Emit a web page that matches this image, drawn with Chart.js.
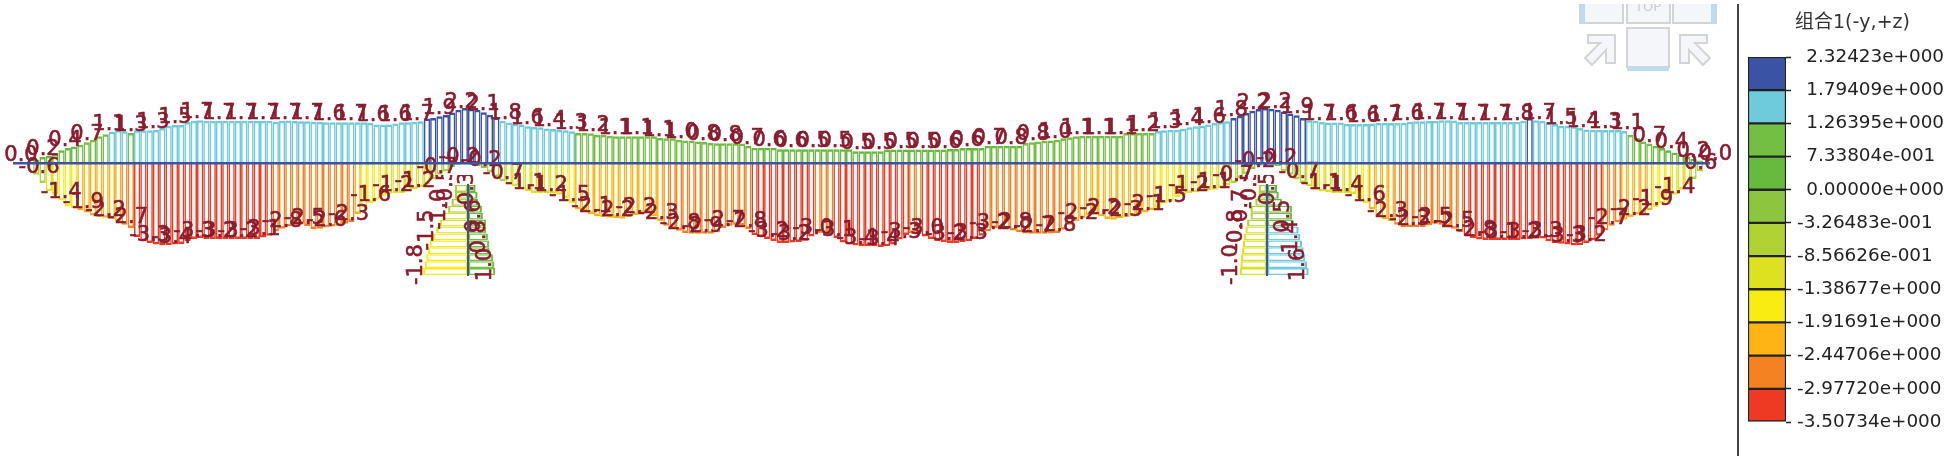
<!DOCTYPE html>
<html>
<head>
<meta charset="utf-8">
<script src="https://cdn.jsdelivr.net/npm/chart.js@4"></script>
<style>
  html, body { margin: 0; padding: 0; background: #fff; width: 1948px; height: 460px; overflow: hidden; }
  canvas { position: absolute; filter: blur(0.45px); }
  #viewCube { position: absolute; left: 1570px; top: 0; filter: blur(0.5px); }
  #divider { position: absolute; left: 1737px; top: 4px; width: 2px; height: 452px; background: #444; }
  #legendTitle { position: absolute; left: 1795px; top: 6px; font: 19px "DejaVu Sans", "Noto Sans CJK SC", sans-serif; color: #333; white-space: nowrap; filter: blur(0.3px); }
</style>
</head>
<body>
<canvas id="beamChart" width="1738" height="460" style="left:0;top:0"></canvas>
<canvas id="pierLeft" width="160" height="130" style="left:388px;top:175px"></canvas>
<canvas id="pierRight" width="160" height="130" style="left:1187px;top:175px"></canvas>
<canvas id="legendChart" width="208" height="460" style="left:1740px;top:0"></canvas>
<div id="divider"></div>
<div id="legendTitle">组合1(-y,+z)</div>
<svg id="viewCube" width="160" height="80" viewBox="1570 0 160 80">
  <g fill="#f4f6f9" stroke="#d2d4d6" stroke-width="2">
    <rect x="1580" y="-4" width="43" height="27"/>
    <rect x="1627" y="-4" width="43" height="27"/>
    <rect x="1673" y="-4" width="43" height="27"/>
    <rect x="1627" y="28" width="42" height="39"/>
    <polygon points="1588,35 1615,35 1615,63 1606,63 1606,50 1592,65 1585,58 1600,43 1588,43"/>
    <polygon points="1707,35 1680,35 1680,63 1689,63 1689,50 1703,65 1710,58 1695,43 1707,43"/>
  </g>
  <rect x="1580" y="4" width="5" height="20" fill="#b9dcf3"/>
  <rect x="1711" y="4" width="5" height="20" fill="#b9dcf3"/>
  <rect x="1627" y="67" width="42" height="4" fill="#b9dcf3"/>
  <text x="1648" y="11" text-anchor="middle" font-family="DejaVu Sans" font-size="13" fill="#c9cbcd">TOP</text>
  <rect x="1570" y="0" width="160" height="4" fill="#fff"/>
</svg>
<script>
// legend bands, top to bottom
const legendLabels = ['2.32423e+000', '1.79409e+000', '1.26395e+000', '7.33804e-001', '0.00000e+000', '-3.26483e-001',
  '-8.56626e-001', '-1.38677e+000', '-1.91691e+000', '-2.44706e+000', '-2.97720e+000', '-3.50734e+000'];
const bandEdges = [2.32423, 1.79409, 1.26395, 0.733804, 0, -0.326483, -0.856626, -1.38677, -1.91691, -2.44706, -2.9772, -3.50734];
const bandColors = ['#3a53a4', '#6dcbdc', '#72bf44', '#66bb3f', '#8cc63f', '#b0d235', '#dde11f', '#f8ec12', '#fdb414', '#f58220', '#ee3a23'];

// beam diagram, one value per bar
const topValues = [
  0.02,0.14,0.25,0.30,0.39,0.53,0.62,0.69,0.76,0.86,
  0.97,1.11,1.20,1.31,1.38,1.32,1.25,1.36,1.36,1.36,
  1.39,1.46,1.55,1.58,1.58,1.71,1.76,1.78,1.76,1.76,
  1.76,1.76,1.76,1.76,1.76,1.76,1.76,1.76,1.76,1.72,
  1.76,1.77,1.75,1.74,1.74,1.72,1.72,1.70,1.70,1.70,
  1.70,1.70,1.70,1.70,1.68,1.60,1.60,1.60,1.65,1.70,
  1.70,1.72,1.74,1.85,1.88,1.95,2.00,2.10,2.22,2.29,
  2.26,2.22,2.11,2.01,1.90,1.76,1.69,1.64,1.60,1.53,
  1.50,1.49,1.44,1.42,1.39,1.36,1.32,1.25,1.25,1.24,
  1.18,1.18,1.14,1.11,1.11,1.11,1.11,1.11,1.11,1.11,
  1.04,1.03,1.03,0.97,0.94,0.94,0.90,0.88,0.83,0.82,
  0.82,0.82,0.82,0.81,0.72,0.64,0.64,0.64,0.64,0.57,
  0.57,0.57,0.57,0.57,0.57,0.57,0.57,0.57,0.57,0.57,
  0.57,0.49,0.49,0.49,0.49,0.49,0.56,0.56,0.56,0.56,
  0.56,0.56,0.56,0.56,0.56,0.56,0.58,0.58,0.62,0.62,
  0.62,0.62,0.72,0.72,0.72,0.72,0.72,0.72,0.83,0.86,
  0.90,0.93,0.94,0.97,1.03,1.07,1.11,1.14,1.14,1.14,
  1.14,1.14,1.14,1.14,1.25,1.25,1.25,1.25,1.25,1.33,
  1.36,1.39,1.39,1.43,1.49,1.53,1.55,1.60,1.67,1.71,
  1.74,1.87,1.97,2.08,2.18,2.25,2.29,2.26,2.22,2.15,
  2.06,1.99,1.88,1.78,1.76,1.71,1.69,1.69,1.69,1.64,
  1.62,1.62,1.62,1.65,1.67,1.67,1.67,1.67,1.68,1.72,
  1.74,1.74,1.75,1.76,1.78,1.78,1.77,1.71,1.71,1.71,
  1.71,1.71,1.71,1.71,1.71,1.71,1.72,1.76,1.88,1.78,
  1.76,1.69,1.62,1.55,1.55,1.53,1.46,1.40,1.39,1.39,
  1.38,1.38,1.38,1.33,1.18,1.04,0.90,0.81,0.72,0.62,
  0.53,0.44,0.35,0.25,0.17,0.10,0.03
];
const bottomValues = [
  -0.03,-0.49,-0.83,-1.18,-1.32,-1.56,-1.81,-1.88,-1.97,-2.06,
  -2.19,-2.25,-2.28,-2.33,-2.43,-2.57,-2.71,-3.08,-3.26,-3.33,
  -3.40,-3.43,-3.43,-3.40,-3.38,-3.26,-3.17,-3.13,-3.17,-3.17,
  -3.17,-3.17,-3.17,-3.17,-3.17,-3.17,-3.17,-3.10,-3.03,-2.85,
  -2.74,-2.64,-2.57,-2.53,-2.64,-2.75,-2.74,-2.69,-2.65,-2.61,
  -2.53,-2.46,-2.13,-1.85,-1.67,-1.53,-1.39,-1.28,-1.25,-1.25,
  -1.18,-1.08,-1.00,-0.90,-0.69,-0.49,-0.35,-0.17,-0.07,-0.05,
  -0.07,-0.14,-0.21,-0.39,-0.58,-0.76,-0.90,-0.97,-1.08,-1.18,
  -1.25,-1.25,-1.25,-1.28,-1.32,-1.46,-1.67,-1.94,-2.01,-2.13,
  -2.22,-2.25,-2.28,-2.29,-2.32,-2.26,-2.17,-2.08,-2.06,-2.22,
  -2.43,-2.61,-2.74,-2.82,-2.92,-2.95,-2.95,-2.95,-2.95,-2.89,
  -2.71,-2.61,-2.57,-2.60,-2.75,-3.01,-3.08,-3.17,-3.25,-3.33,
  -3.33,-3.31,-3.29,-3.24,-3.06,-2.92,-2.92,-2.96,-3.13,-3.31,
  -3.40,-3.44,-3.47,-3.47,-3.47,-3.50,-3.47,-3.40,-3.19,-3.00,
  -2.92,-2.96,-3.06,-3.17,-3.26,-3.29,-3.33,-3.33,-3.29,-3.26,
  -3.17,-3.03,-2.85,-2.71,-2.71,-2.75,-2.81,-2.89,-2.94,-2.95,
  -2.95,-2.95,-2.94,-2.92,-2.78,-2.57,-2.43,-2.29,-2.19,-2.15,
  -2.22,-2.33,-2.36,-2.29,-2.25,-2.19,-2.13,-2.06,-1.97,-1.88,
  -1.69,-1.60,-1.42,-1.32,-1.25,-1.22,-1.18,-1.14,-1.11,-1.04,
  -0.94,-0.83,-0.63,-0.46,-0.25,-0.11,-0.06,-0.07,-0.14,-0.35,
  -0.49,-0.69,-0.83,-0.97,-1.11,-1.18,-1.22,-1.25,-1.25,-1.25,
  -1.29,-1.46,-1.67,-1.94,-2.19,-2.33,-2.43,-2.57,-2.68,-2.68,
  -2.68,-2.67,-2.60,-2.53,-2.57,-2.64,-2.74,-2.89,-3.03,-3.13,
  -3.19,-3.21,-3.21,-3.21,-3.21,-3.21,-3.21,-3.19,-3.17,-3.15,
  -3.15,-3.26,-3.33,-3.36,-3.40,-3.44,-3.43,-3.33,-3.22,-3.03,
  -2.81,-2.61,-2.47,-2.36,-2.25,-2.15,-2.08,-1.97,-1.83,-1.69,
  -1.60,-1.32,-1.11,-0.90,-0.67,-0.35,-0.03
];

// printed labels, as they read along the beam
const topLabels = ['0.0','0.2','0.4','0.7','1.1','1.3','1.3','1.5','1.7','1.7',
  '1.7','1.7','1.7','1.7','1.6','1.7','1.6','1.6','1.7','1.9',
  '2.2','2.1','1.8','1.6','1.4','1.3','1.2','1.1','1.1','1.1',
  '1.0','0.8','0.8','0.7','0.6','0.6','0.5','0.5','0.5','0.5',
  '0.5','0.5','0.6','0.6','0.7','0.8','0.8','1.0','1.1','1.1',
  '1.1','1.2','1.3','1.4','1.6','1.8','2.2','2.2','1.9','1.7',
  '1.6','1.6','1.7','1.6','1.7','1.7','1.7','1.7','1.8','1.7',
  '1.5','1.4','1.3','1.1','0.7','0.4','0.2','0.0'];
const bottomLabels = ['-0.6','-1.4','-1.9','-2.2','-2.7','-3.3','-3.4','-3.3','-3.2','-3.2',
  '-3.1','-2.8','-2.5','-2.6','-2.3','-1.6','-1.2','-1.2','-0.7','-0.2',
  '-0.2','-0.7','-1.1','-1.2','-1.5','-2.1','-2.2','-2.2','-2.3','-2.8',
  '-2.9','-2.7','-2.8','-3.2','-3.2','-3.0','-3.1','-3.4','-3.4','-3.3',
  '-3.0','-3.2','-3.3','-3.2','-2.8','-2.7','-2.8','-2.2','-2.2','-2.3',
  '-2.1','-1.5','-1.2','-1.1','-0.7','-0.2','-0.2','-0.7','-1.1','-1.4',
  '-1.6','-2.3','-2.3','-2.5','-2.5','-2.8','-3.1','-3.2','-3.3','-3.3',
  '-3.2','-2.7','-2.2','-1.9','-1.4','-0.6'];

// piers, one value per row from top to bottom
const pierRows = ['1','2','3','4','5','6','7','8','9','10','11','12','13'];
const pierLeftNeg = [-0.55,-0.55,-0.69,-0.83,-1.04,-1.18,-1.32,-1.46,-1.60,-1.67,-1.74,-1.81,-1.87];
const pierLeftPos = [0.32,0.40,0.42,0.58,0.62,0.76,0.76,0.83,0.89,0.90,1.04,1.10,1.14];
const pierRightNeg = [-0.35,-0.35,-0.49,-0.69,-0.69,-0.83,-0.90,-0.97,-1.00,-1.04,-1.08,-1.11,-1.14];
const pierRightPos = [0.42,0.49,0.63,1.04,1.04,1.11,1.32,1.39,1.46,1.53,1.60,1.67,1.74];
const pierLeftNegLabels = ['-0.5','-1.0','-1.5','-1.8'];
const pierLeftPosLabels = ['0.3','0.6','0.8','1.0'];
const pierRightNegLabels = ['-0.5','-0.7','-0.8','-1.0'];
const pierRightPosLabels = ['0.5','0.5','1.4','1.6'];
const pierNegLabelRows = [0, 3, 6, 11];
const pierPosLabelRows = [0, 4, 7, 11];

const labelFont = '21px "DejaVu Sans"';
const labelColor = '#8a1c2e';
const leadBars = 2; // empty slots so the base line starts left of the first bar

function bandColor(v) {
  for (let i = 0; i < bandColors.length; i++) {
    if (v >= bandEdges[i + 1]) return bandColors[i];
  }
  return bandColors[bandColors.length - 1];
}

function withLead(values) {
  return new Array(leadBars).fill(null).concat(values);
}

function setLabelStyle(ctx) {
  ctx.font = labelFont;
  ctx.fillStyle = labelColor;
  ctx.strokeStyle = labelColor;
  ctx.lineWidth = 0.6;
  ctx.textAlign = 'center';
  ctx.textBaseline = 'alphabetic';
}

const beamLabelsPlugin = {
  id: 'beamLabels',
  afterDatasetsDraw(chart) {
    const { ctx, scales: { x, y } } = chart;
    const drawLabel = (text, barPos, values) => {
      const nearest = Math.min(values.length - 1, Math.max(0, Math.round(barPos)));
      const px = x.getPixelForValue(barPos + leadBars);
      const py = y.getPixelForValue(values[nearest]) - 2;
      ctx.fillText(text, px, py);
      ctx.strokeText(text, px, py);
    };
    ctx.save();
    setLabelStyle(ctx);
    topLabels.forEach((text, k) => drawLabel(text, (21 + 22 * k - 30) / 6.3, topValues));
    bottomLabels.forEach((text, k) => drawLabel(text, (17 + 22.1 * (k + 1) - 30) / 6.3, bottomValues));
    ctx.restore();
  }
};

new Chart(document.getElementById('beamChart'), {
  type: 'bar',
  plugins: [beamLabelsPlugin],
  data: {
    labels: withLead(topValues).map((_, i) => String(i)),
    datasets: [
      {
        data: withLead(topValues),
        borderColor: withLead(topValues).map(v => v === null ? 'transparent' : bandColor(v)),
        borderWidth: { top: 2.5, left: 1.5, right: 1.5, bottom: 0 }
      },
      {
        data: withLead(bottomValues),
        borderColor: withLead(bottomValues).map(v => v === null ? 'transparent' : bandColor(v)),
        borderWidth: { top: 0, left: 1.5, right: 1.5, bottom: 2.5 }
      }
    ]
  },
  options: {
    responsive: false,
    animation: false,
    devicePixelRatio: 1,
    layout: { padding: { left: 14.25, right: 28.75, top: 19, bottom: 105 } },
    datasets: {
      bar: {
        backgroundColor: 'transparent',
        barPercentage: 1,
        categoryPercentage: 1,
        grouped: false,
        borderSkipped: false,
        inflateAmount: 0
      }
    },
    scales: {
      x: {
        position: { y: 0 },
        ticks: { display: false },
        grid: { display: false, drawTicks: false },
        border: { color: '#3a53a4', width: 2.5, z: 1 }
      },
      y: { display: false, min: -8, max: 6 }
    },
    plugins: { legend: { display: false }, tooltip: { enabled: false } }
  }
});

function drawPier(canvasId, negValues, posValues, negLabels, posLabels) {
  const pierLabelsPlugin = {
    id: 'pierLabels',
    afterDatasetsDraw(chart) {
      const { ctx, scales: { x, y } } = chart;
      const drawLabel = (text, row, value) => {
        ctx.save();
        ctx.translate(x.getPixelForValue(value) - 3, y.getPixelForValue(row));
        ctx.rotate(-Math.PI / 2);
        ctx.fillText(text, 0, 0);
        ctx.strokeText(text, 0, 0);
        ctx.restore();
      };
      ctx.save();
      setLabelStyle(ctx);
      negLabels.forEach((text, k) => drawLabel(text, pierNegLabelRows[k], negValues[pierNegLabelRows[k]]));
      posLabels.forEach((text, k) => drawLabel(text, pierPosLabelRows[k], posValues[pierPosLabelRows[k]]));
      ctx.restore();
    }
  };
  new Chart(document.getElementById(canvasId), {
    type: 'bar',
    plugins: [pierLabelsPlugin],
    data: {
      labels: pierRows,
      datasets: [
        { data: negValues, borderColor: negValues.map(bandColor) },
        { data: posValues, borderColor: posValues.map(bandColor) }
      ]
    },
    options: {
      indexAxis: 'y',
      responsive: false,
      animation: false,
      devicePixelRatio: 1,
      layout: { padding: { left: 0, right: 0, top: 10, bottom: 30 } },
      datasets: {
        bar: {
          backgroundColor: 'transparent',
          barPercentage: 1,
          categoryPercentage: 1,
          grouped: false,
          borderSkipped: false,
          inflateAmount: 0,
          borderWidth: { top: 1.3, bottom: 1.3, left: 2.2, right: 2.2 }
        }
      },
      scales: {
        x: { display: false, min: -80 / 24, max: 80 / 24 },
        y: {
          position: { x: 0 },
          ticks: { display: false },
          grid: { display: false, drawTicks: false },
          border: { color: '#3a53a4', width: 2, z: 1 }
        }
      },
      plugins: { legend: { display: false }, tooltip: { enabled: false } }
    }
  });
}

drawPier('pierLeft', pierLeftNeg, pierLeftPos, pierLeftNegLabels, pierLeftPosLabels);
drawPier('pierRight', pierRightNeg, pierRightPos, pierRightNegLabels, pierRightPosLabels);

// colour bar: eleven stacked cells, tick labels sit on the cell edges
new Chart(document.getElementById('legendChart'), {
  type: 'bar',
  data: {
    labels: ['scale'],
    datasets: bandColors.slice().reverse().map(color => ({
      data: [1],
      backgroundColor: color,
      borderColor: '#222',
      borderWidth: 1.5,
      borderSkipped: false,
      barPercentage: 1,
      categoryPercentage: 1
    }))
  },
  options: {
    responsive: false,
    animation: false,
    devicePixelRatio: 1,
    layout: { padding: { left: 8, right: 0, top: 57, bottom: 38 } },
    scales: {
      x: { display: false, stacked: true },
      y: {
        position: 'right',
        stacked: true,
        min: 0,
        max: 11,
        afterFit(scale) { scale.width = 162; },
        grid: { drawOnChartArea: false, drawTicks: true, tickLength: 5, tickColor: '#222', tickWidth: 1.5 },
        border: { display: false },
        ticks: {
          stepSize: 1,
          padding: 6,
          color: '#222',
          font: { family: 'DejaVu Sans', size: 18.4 },
          callback(value) {
            const text = legendLabels[11 - value];
            return text.startsWith('-') ? text : '\u2002' + text;
          }
        }
      }
    },
    plugins: { legend: { display: false }, tooltip: { enabled: false } }
  }
});
</script>
</body>
</html>
